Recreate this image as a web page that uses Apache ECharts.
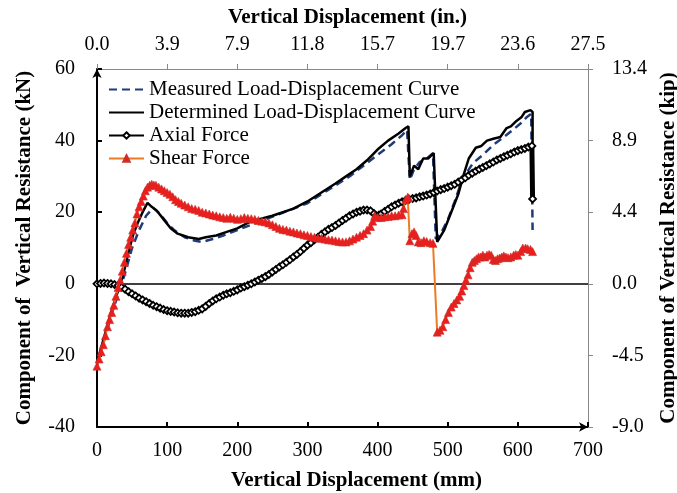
<!DOCTYPE html>
<html><head><meta charset="utf-8">
<script src="https://cdn.jsdelivr.net/npm/echarts@6/dist/echarts.min.js"></script>
<style>html,body{margin:0;padding:0;background:#fff}#c{width:677px;height:493px}</style>
</head><body><div id="c"></div>
<script>
const xTicksMm = [0,100,200,300,400,500,600,700];
const inLabels = ['0.0','3.9','7.9','11.8','15.7','19.7','23.6','27.5'];
const yTicksKn = [-40,-20,0,20,40,60];
const kipLabels = ['-9.0','-4.5','0.0','4.4','8.9','13.4'];
const seriesNames = ['Measured Load-Displacement Curve','Determined Load-Displacement Curve','Axial Force','Shear Force'];

const measured = [[0,-23],[10,-16],[20,-9],[30,-3],[40,3],[50,10],[60,15],[70,19],[80,21.2],[90,19.5],[100,17],[110,15],[125,13],[140,12],[150,11.7],[165,12.5],[180,13.5],[200,15],[220,16.5],[240,18],[260,19.5],[280,21],[300,22.5],[320,25],[340,27.5],[360,30],[380,33],[400,36],[420,39],[435,41.5],[442,43],[446,29],[452,32],[460,34],[470,35],[479,36.5],[483,12.5],[490,14],[500,17.8],[510,23],[517,27],[527,31],[536,33.7],[550,36],[565,38.8],[580,41],[593,43],[605,45],[613,46.6],[619,47.5],[621,15]];

const determined = [[0,-22],[10,-15],[20,-8],[30,-2],[38,3],[45,9],[52,14],[58,17],[65,20],[72,22.6],[78,21.5],[85,20.5],[95,18],[105,15.5],[115,14],[130,13],[145,12.5],[155,13],[170,13.5],[185,14.5],[200,15.5],[215,17],[230,18],[250,19],[265,20],[280,21],[300,23],[320,25.5],[340,28],[355,30],[370,32],[385,34.5],[400,37.5],[415,40],[430,42],[440,43.5],[444,44],[446,30],[452,33],[458,32],[465,35],[472,35],[480,36.5],[485,11.7],[495,15],[505,20],[515,25],[522,30],[530,35],[540,38],[548,38.5],[556,40],[565,40.5],[575,41],[584,43.5],[590,44],[598,45.5],[605,46.5],[610,48],[618,48.5],[621,48],[621,23.7]];

const axial = [[0,0],[5,0.1],[10,0.2],[15,0.1],[20,0],[25,-0.2],[30,-0.5],[35,-1],[40,-1.5],[45,-2.2],[50,-2.8],[55,-3.4],[60,-4],[65,-4.5],[70,-5],[75,-5.5],[80,-6],[85,-6.4],[90,-6.8],[95,-7.2],[100,-7.5],[105,-7.7],[110,-7.9],[115,-8.1],[120,-8.2],[125,-8.2],[130,-8.2],[135,-8],[140,-7.8],[145,-7.4],[150,-7],[155,-6.3],[160,-5.5],[165,-4.8],[170,-4.2],[175,-3.7],[180,-3.2],[185,-2.8],[190,-2.5],[195,-2.1],[200,-1.7],[205,-1.2],[210,-0.8],[215,-0.4],[220,0],[225,0.5],[230,1],[235,1.5],[240,2],[245,2.6],[250,3.3],[255,4],[260,4.7],[265,5.3],[270,6],[275,6.7],[280,7.5],[285,8.2],[290,9],[295,9.9],[300,10.8],[305,11.5],[310,12.3],[315,13],[320,13.8],[325,14.5],[330,15.2],[335,15.7],[340,16.3],[345,17],[350,17.7],[355,18.3],[360,19],[365,19.5],[370,20],[375,20.3],[380,20.6],[385,20.6],[390,20.4],[395,19.6],[398,19],[402,19.2],[405,19.5],[410,20.2],[415,20.8],[420,21.5],[425,22],[430,22.5],[435,22.9],[440,23.3],[445,23.6],[450,23.8],[455,24],[460,24.3],[465,24.5],[470,24.8],[475,25.1],[480,25.5],[485,25.9],[490,26.3],[495,26.6],[500,27],[505,27.4],[510,27.8],[515,28.4],[520,29],[525,29.6],[530,30.3],[535,30.9],[540,31.5],[545,32],[550,32.5],[555,33],[560,33.5],[565,34],[570,34.6],[575,35],[580,35.5],[585,35.9],[590,36.3],[595,36.8],[600,37.2],[605,37.5],[610,37.8],[615,38.2],[620,38.5],[621,23.7]];

const shear = [[0,-23],[3,-21],[6,-19],[9,-17],[12,-14.5],[15,-12],[18,-10],[21,-8],[24,-6],[27,-3.5],[30,-1],[33,1],[36,3.5],[39,6],[42,8.5],[45,11],[48,13],[51,15],[54,17],[57,19.5],[60,21.5],[63,23],[66,24.5],[69,26],[72,27],[75,27.5],[78,27.8],[81,27.6],[84,27.5],[88,27],[92,26.5],[96,26],[100,25.5],[104,25],[108,24.3],[112,23.5],[116,23],[120,22.5],[125,22],[130,21.5],[135,21],[140,20.8],[145,20.5],[150,20],[155,19.8],[160,19.5],[165,19.2],[170,19],[175,18.7],[180,18.5],[185,18.3],[190,18.6],[195,18.3],[200,18],[205,18.2],[210,18.5],[215,18.3],[220,18.2],[225,18],[230,17.7],[235,17.5],[240,17.3],[245,17],[250,16.5],[255,16],[260,15.5],[265,15.2],[270,15],[275,14.7],[280,14.5],[285,14.2],[290,14],[295,13.7],[300,13.5],[305,13.2],[310,13],[315,12.8],[320,12.7],[325,12.5],[330,12.3],[335,12.2],[340,12],[345,11.8],[350,11.7],[355,11.7],[360,12],[365,12.5],[370,13],[375,13.5],[380,14],[385,15],[390,16],[393,17.5],[396,19],[400,18.5],[405,18.5],[410,18.7],[415,18.8],[420,19],[425,19],[430,19.2],[435,19.3],[437,21],[440,23.5],[443,24.2],[444,24],[446,12],[449,14],[452,14.5],[455,13.5],[458,11.7],[462,11.5],[466,12],[470,11.8],[475,11.5],[479,11.3],[485,-13.5],[489,-13],[493,-12],[497,-10],[501,-8],[505,-6.5],[509,-5.5],[513,-4.5],[517,-3.5],[520,-2],[523,-0.5],[526,1],[529,2.5],[532,4.5],[535,6],[538,6.5],[541,7],[544,7.5],[547,7.5],[550,8],[553,7.5],[556,8],[559,8.2],[562,8],[565,6.8],[568,6.5],[571,7],[574,7.2],[577,7.5],[580,7.8],[583,7.5],[586,7.3],[590,7.5],[594,8],[597,8.2],[600,8],[604,9],[607,10],[611,10],[614,9.8],[618,9.6],[621,9]];

const FONT = 'Liberation Serif';
const chart = echarts.init(document.getElementById('c'), null, {renderer:'canvas'});
chart.setOption({
  animation:false,
  backgroundColor:'#fff',
  textStyle:{fontFamily:FONT},
  grid:{left:97,right:89,top:69,bottom:66,containLabel:false,outerBoundsMode:'none'},
  legend:{
    orient:'vertical',left:103,top:74,itemWidth:35,itemHeight:8,itemGap:2,
    data:[
      {name:seriesNames[0],itemStyle:{opacity:0}},
      {name:seriesNames[1],itemStyle:{opacity:0}},
      {name:seriesNames[2]},
      {name:seriesNames[3]}
    ],
    textStyle:{fontFamily:FONT,fontSize:21,color:'#000'},
    selectedMode:false
  },
  xAxis:[{
    type:'value',min:0,max:700,interval:100,position:'bottom',
    name:'Vertical Displacement (mm)',nameLocation:'middle',nameGap:43,
    nameTextStyle:{fontFamily:FONT,fontSize:21,fontWeight:'bold',color:'#000',padding:[0,0,0,28]},
    axisLine:{onZero:false,lineStyle:{color:'#000',width:2},symbol:['none','arrow'],symbolSize:[7,9]},
    axisTick:{inside:true,length:5,lineStyle:{color:'#000',width:2}},
    axisLabel:{fontFamily:FONT,fontSize:20,color:'#000',margin:14,
      formatter:v=>String(xTicksMm[xTicksMm.indexOf(v)])},
    splitLine:{show:false}
  },{
    type:'value',min:0,max:700,interval:100,position:'top',
    name:'Vertical Displacement (in.)',nameLocation:'middle',nameGap:41,
    nameTextStyle:{fontFamily:FONT,fontSize:21,fontWeight:'bold',color:'#000',padding:[0,0,0,10]},
    axisLine:{onZero:false,lineStyle:{color:'#888',width:1}},
    axisTick:{inside:false,length:5,lineStyle:{color:'#888',width:1}},
    axisLabel:{fontFamily:FONT,fontSize:20,color:'#000',margin:14,
      formatter:v=>inLabels[xTicksMm.indexOf(v)]},
    splitLine:{show:false}
  }],
  yAxis:[{
    type:'value',min:-40,max:60,interval:20,position:'left',
    name:'Component of  Vertical Resistance (kN)',nameLocation:'middle',nameGap:62,
    nameTextStyle:{fontFamily:FONT,fontSize:21,fontWeight:'bold',color:'#000'},
    axisLine:{onZero:false,lineStyle:{color:'#000',width:2},symbol:['none','arrow'],symbolSize:[7,9]},
    axisTick:{inside:true,length:5,lineStyle:{color:'#000',width:2}},
    axisLabel:{fontFamily:FONT,fontSize:20,color:'#000',margin:22},
    splitLine:{show:false}
  },{
    type:'value',min:-40,max:60,interval:20,position:'right',
    name:'Component of Vertical Resistance (kip)',nameLocation:'middle',nameGap:70,
    nameRotate:90,
    nameTextStyle:{fontFamily:FONT,fontSize:21,fontWeight:'bold',color:'#000'},
    axisLine:{onZero:false,lineStyle:{color:'#888',width:1}},
    axisTick:{inside:false,length:5,lineStyle:{color:'#888',width:1}},
    axisLabel:{fontFamily:FONT,fontSize:20,color:'#000',margin:24,
      formatter:v=>kipLabels[yTicksKn.indexOf(v)]},
    splitLine:{show:false}
  }],
  series:[{
    name:seriesNames[0],type:'line',data:measured,showSymbol:false,symbol:'none',z:3,
    lineStyle:{color:'#1f3c78',width:2.5,type:[8,5]},itemStyle:{color:'#1f3c78'}
  },{
    name:seriesNames[1],type:'line',data:determined,showSymbol:false,symbol:'none',z:4,
    lineStyle:{color:'#000',width:2.5},itemStyle:{color:'#000'},
    markLine:{silent:true,symbol:'none',label:{show:false},
      lineStyle:{color:'#000',width:1.5,type:'solid'},data:[{yAxis:0}]}
  },{
    name:seriesNames[2],type:'line',data:axial,symbol:'diamond',symbolSize:7,showSymbol:true,showAllSymbol:true,z:5,
    lineStyle:{color:'#000',width:5},
    itemStyle:{color:'#fff',borderColor:'#000',borderWidth:1.8}
  },{
    name:seriesNames[3],type:'line',data:shear,symbol:'triangle',symbolSize:8,showSymbol:true,showAllSymbol:true,z:6,
    lineStyle:{color:'#ec7b24',width:2},
    itemStyle:{color:'#ee1c1c',borderColor:'#c8302a',borderWidth:0.6}
  }]
});
</script></body></html>
